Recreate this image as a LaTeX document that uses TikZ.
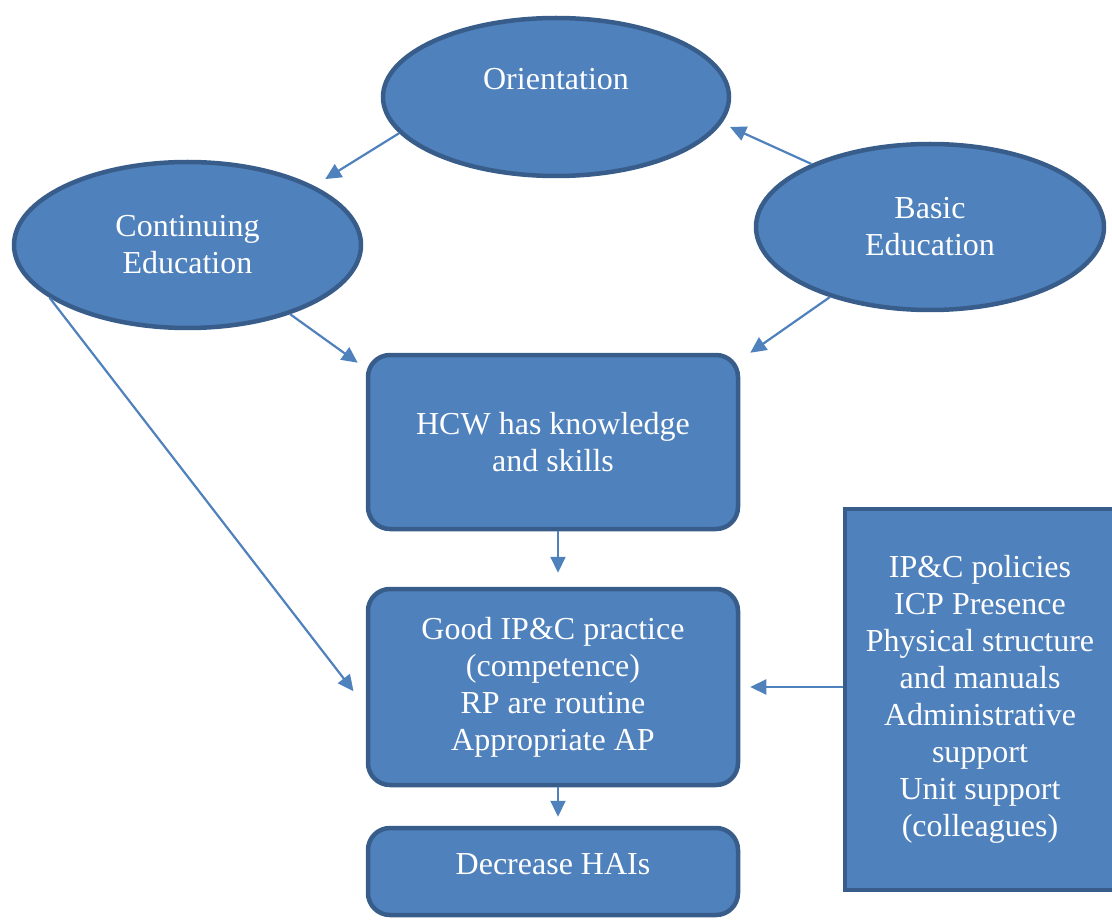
\documentclass[tikz,border=0pt]{standalone}
\usepackage{fontspec}
\setmainfont{Liberation Serif}
\usetikzlibrary{shapes.geometric,arrows.meta}
\definecolor{boxblue}{HTML}{4F81BD}
\definecolor{boxedge}{HTML}{385D8A}
\tikzstyle{bubble} = [ellipse, draw=boxedge, fill=boxblue, line width=4.5pt, inner sep=0pt, text=white, align=center, font=\fontsize{32}{37}\selectfont]
\tikzstyle{roundbox} = [rectangle, rounded corners=22pt, draw=boxedge, fill=boxblue, line width=4.5pt, inner sep=0pt, minimum width=370pt, text=white, align=center, font=\fontsize{32}{37}\selectfont]
\tikzstyle{sidebox} = [rectangle, draw=boxedge, fill=boxblue, line width=4.5pt, inner sep=0pt, text=white, align=center, font=\fontsize{32}{37}\selectfont]
\tikzstyle{link} = [draw=boxblue, line width=2.2pt, -{Triangle[length=16pt,width=15pt]}]

\begin{document}
\begin{tikzpicture}[x=1pt,y=-1pt]
                \useasboundingbox (0,0) rectangle (1112,920);
                % ovals
                \node [bubble, minimum width=346pt, minimum height=158pt] (orient) at (556,97) {Orientation\\~};
                \node [bubble, minimum width=347pt, minimum height=166pt] (contedu) at (187.5,245) {Continuing\\Education};
                \node [bubble, minimum width=348pt, minimum height=166pt] (basicedu) at (930,227) {Basic\\Education};
                % boxes
                \node [roundbox, minimum height=174pt] (know) at (553,442) {HCW has knowledge\\and skills};
                \node [roundbox, minimum height=196pt] (practice) at (553,687) {Good IP\&C practice\\(competence)\\RP are routine\\Appropriate AP};
                \node [roundbox, minimum height=87pt, text depth=16pt] (hai) at (553,871.5) {Decrease HAIs};
                \node [sidebox, minimum width=270pt, minimum height=381pt] (factors) at (980,699.5) {IP\&C policies\\ICP Presence\\Physical structure\\and manuals\\Administrative\\support\\Unit support\\(colleagues)};
                % arrows
                \draw [link, shorten >=13pt] (orient.193) -- (contedu.25);
                \draw [link, shorten >=9pt] (basicedu.152) -- (orient.-9);
                \draw [link] (contedu.-34) -- ([shift={(-8,10)}]know.north west);
                \draw [link] (basicedu.215) -- ([shift={(10,0)}]know.north east);
                \draw [link, shorten >=20pt] (contedu.201) -- ([shift={(0,20)}]practice.west);
                \draw [link, shorten >=14pt] ([shift={(5,0)}]know.south) -- ([shift={(5,0)}]practice.north);
                \draw [link, shorten >=9pt] ([shift={(5,0)}]practice.south) -- ([shift={(5,0)}]hai.north);
                \draw [link, shorten >=10pt] (factors.west |- practice.east) -- (practice.east);
\end{tikzpicture}
\end{document}
